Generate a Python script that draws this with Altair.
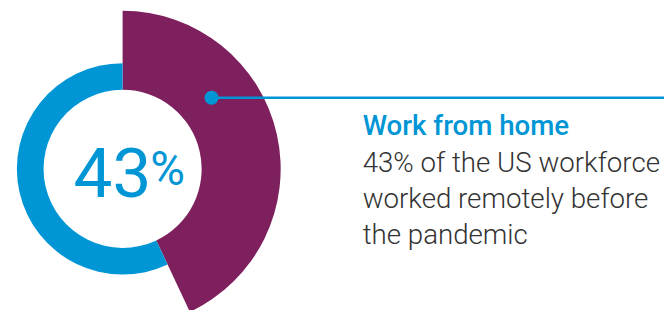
import altair as alt
import pandas as pd

categories = ["Work from home", "Other"]
shares = [43, 57]
colors = ["#7E1F5E", "#0096D6"]

big_number = "43"
big_suffix = "%"
title_text = "Work from home"
body_lines = ["43% of the US workforce", "worked remotely before", "the pandemic"]

df = pd.DataFrame({"category": categories, "share": shares})

CX, CY = 116, 161

base = alt.Chart(df).encode(
    theta=alt.Theta("share:Q", stack=True),
    order=alt.Order("category:N", sort="descending"),
    color=alt.Color("category:N", scale=alt.Scale(domain=categories, range=colors), legend=None),
    x=alt.value(CX),
    y=alt.value(CY),
)

purple = base.mark_arc(innerRadius=80, outerRadius=160).encode(
    opacity=alt.condition(alt.datum.category == categories[0], alt.value(1), alt.value(0))
)
blue = base.mark_arc(innerRadius=80, outerRadius=107).encode(
    opacity=alt.condition(alt.datum.category == categories[1], alt.value(1), alt.value(0))
)

one = alt.Data(values=[{}])

rule = alt.Chart(one).mark_rule(color="#0096D6", strokeWidth=2.5).encode(
    x=alt.value(206), x2=alt.value(664), y=alt.value(89)
)
dot = alt.Chart(one).mark_circle(color="#0096D6", opacity=1, size=201).encode(
    x=alt.value(206), y=alt.value(89)
)

num = alt.Chart(one).mark_text(
    text=big_number, font="Roboto", fontWeight=400, fontSize=70, color="#0096D6",
    align="right", baseline="alphabetic"
).encode(x=alt.value(145), y=alt.value(189))
pct = alt.Chart(one).mark_text(
    text=big_suffix, font="Roboto", fontWeight=400, fontSize=48, color="#0096D6",
    align="left", baseline="alphabetic"
).encode(x=alt.value(144), y=alt.value(177))

title = alt.Chart(one).mark_text(
    text=title_text, font="Roboto", fontWeight=500, fontSize=28, color="#0096D6",
    align="left", baseline="alphabetic"
).encode(x=alt.value(359), y=alt.value(127))

body_df = pd.DataFrame({"line": body_lines, "idx": list(range(len(body_lines)))})
body = alt.Chart(body_df).mark_text(
    font="Roboto", fontWeight=300, fontSize=28, color="#333333",
    align="left", baseline="alphabetic"
).encode(
    x=alt.value(359),
    y=alt.Y("idx:Q", scale=alt.Scale(domain=[0, 2], range=[164, 237]), axis=None),
    text="line:N",
)

chart = alt.layer(purple, blue, rule, dot, num, pct, title, body).properties(
    width=664, height=302, padding=0, background="white",
    autosize=alt.AutoSizeParams(type="none")
).configure_view(strokeWidth=0, stroke=None)

chart.save("out.html", embed_options={"renderer": "svg", "actions": False})
